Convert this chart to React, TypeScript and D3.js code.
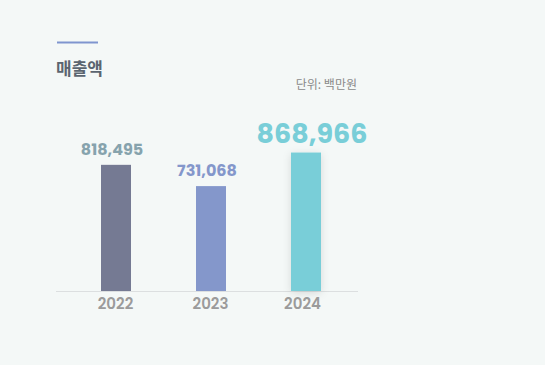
import React from "react";
import * as d3 from "d3";

const years = ["2022", "2023", "2024"];
const values = [818495, 731068, 868966];
const barColors = ["#757a93", "#8497cb", "#79ced8"];
const labelColors = ["#86a3ad", "#8497cb", "#79ced8"];
const title = "매출액";
const unitText = "단위: 백만원";

export default function App() {
  const W = 545, H = 365;
  const x = d3.scaleBand<string>().domain(years).range([68.5, 353.5]).padding(0);
  const bw = 30;
  const y = d3.scaleLinear().domain([300000, 900000]).range([291, 145]);
  const fmt = d3.format(",");
  const fontNum = "Poppins, 'Open Sans', sans-serif";
  return (
    <svg width={W} height={H} style={{ position: "absolute", left: 0, top: 0, background: "#f4f8f7" }}>
      <defs>
        <filter id="sh" x="-60%" y="-20%" width="220%" height="140%">
          <feDropShadow dx="0" dy="2" stdDeviation="4" floodColor="#000" floodOpacity="0.12" />
        </filter>
      </defs>
      <rect x={0} y={0} width={W} height={H} fill="#f4f8f7" />
      <rect x={57} y={41.5} width={41} height={2} fill="#7f95cf" />
      <text x={56} y={75} fontFamily="'Noto Sans CJK KR', sans-serif" fontWeight={700} fontSize={17} fill="#5b6570">{title}</text>
      <text x={357} y={89} textAnchor="end" fontFamily="'Noto Sans CJK KR', sans-serif" fontSize={12} fill="#8a8a8a">{unitText}</text>
      <line x1={56} x2={358} y1={291.5} y2={291.5} stroke="#dcdfe0" strokeWidth={1} />
      {years.map((yr, i) => {
        const cx = (x(yr) as number) + x.bandwidth() / 2;
        const top = y(values[i]);
        const big = i === 2;
        return (
          <g key={yr}>
            <rect x={cx - bw / 2} y={top} width={bw} height={291 - top} fill={barColors[i]} filter={big ? "url(#sh)" : undefined} />
            <text x={cx + (big ? 6 : -4)} y={top - 10} textAnchor="middle" fontFamily={fontNum} fontWeight={700}
              fontSize={big ? 27 : 16} fill={labelColors[i]}>{fmt(values[i])}</text>
            <text x={cx - (i === 2 ? 3.5 : 0.5)} y={309} textAnchor="middle" fontFamily={fontNum} fontWeight={600} fontSize={15} fill="#9b9b9b">{yr}</text>
          </g>
        );
      })}
    </svg>
  );
}
